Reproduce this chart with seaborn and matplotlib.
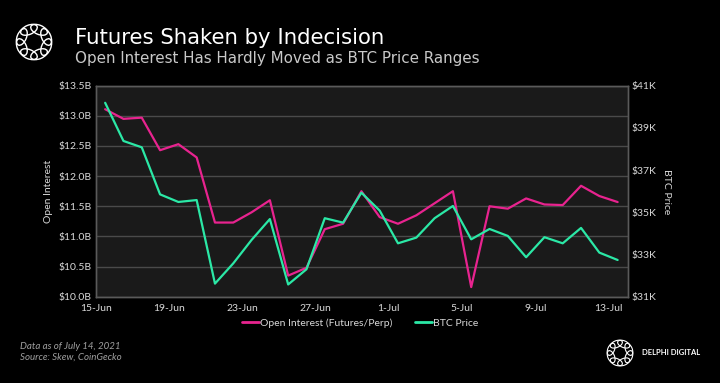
import numpy as np
import pandas as pd
import matplotlib
matplotlib.use("Agg")
import matplotlib.pyplot as plt
from matplotlib.patches import Ellipse
from matplotlib.lines import Line2D
import seaborn as sns

# ---- data ----
dates = pd.date_range("2021-06-15", "2021-07-13", freq="D")
open_interest_b = [13.11, 12.95, 12.97, 12.43, 12.53, 12.31, 11.23, 11.23, 11.40, 11.60,
                   10.35, 10.48, 11.12, 11.21, 11.75, 11.32, 11.21, 11.35, 11.55, 11.75,
                   10.16, 11.50, 11.46, 11.63, 11.53, 11.52, 11.84, 11.67, 11.57]
btc_price_k = [40.19, 38.38, 38.08, 35.85, 35.49, 35.58, 31.62, 32.58, 33.69, 34.68,
               31.58, 32.30, 34.72, 34.51, 35.93, 35.08, 33.53, 33.80, 34.72, 35.30,
               33.72, 34.21, 33.88, 32.87, 33.82, 33.53, 34.26, 33.09, 32.74]
left_ticks = [10.0, 10.5, 11.0, 11.5, 12.0, 12.5, 13.0, 13.5]
right_ticks = [31, 33, 35, 37, 39, 41]
series_names = ["Open Interest (Futures/Perp)", "BTC Price"]

PINK = "#e8238f"
GREEN = "#2be8a6"
BG = "#000000"
PANEL = "#1a1a1a"
GRID = "#4a4a4a"
TXT = "#d9d9d9"

df = pd.DataFrame({"date": dates + pd.Timedelta(hours=12),
                   "oi": open_interest_b, "btc": btc_price_k})

sns.set_theme(style="dark")
plt.rcParams["font.family"] = ["Lato", "DejaVu Sans"]

fig = plt.figure(figsize=(7.2, 3.83), dpi=100, facecolor=BG)
ax = fig.add_axes([96/720, 1-296.7/383, (627.7-96)/720, (296.7-85.7)/383])
ax.set_facecolor(PANEL)
ax2 = ax.twinx()

sns.lineplot(data=df, x="date", y="oi", ax=ax, color=PINK, linewidth=1.6, zorder=3)
sns.lineplot(data=df, x="date", y="btc", ax=ax2, color=GREEN, linewidth=1.6, zorder=4)

ax.set_ylim(10.0, 13.5)
ax2.set_ylim(31, 41)
ax.set_yticks(left_ticks)
ax.set_yticklabels([f"${v:.1f}B" for v in left_ticks])
ax2.set_yticks(right_ticks)
ax2.set_yticklabels([f"${v}K" for v in right_ticks])

x0 = pd.Timestamp("2021-06-15")
ax.set_xlim(x0, x0 + pd.Timedelta(days=29.05))
ticks = [x0 + pd.Timedelta(days=4*i) for i in range(8)]
ax.set_xticks(ticks)
ax.set_xticklabels([t.strftime("%-d-%b") for t in ticks])

ax.grid(axis="y", color=GRID, linewidth=1.0)
ax.grid(axis="x", visible=False)
ax2.grid(False)
for a in (ax, ax2):
    for s in a.spines.values():
        s.set_visible(True)
        s.set_color("#5a5a5a")
        s.set_linewidth(1.0)
    a.tick_params(colors=TXT, labelsize=7.5, length=0, pad=3)
ax.tick_params(axis="x", length=3, color="#5a5a5a", width=0.8, pad=2)
ax.set_xlabel("")
ax.set_ylabel("Open Interest", color=TXT, fontsize=7.5, labelpad=4)
ax2.set_ylabel("BTC Price", color=TXT, fontsize=7.5, rotation=270, labelpad=10)

# legend
handles = [Line2D([0], [0], color=PINK, lw=2), Line2D([0], [0], color=GREEN, lw=2)]
fig.legend(handles, series_names, loc="center", bbox_to_anchor=(0.5, 1-323/383),
           ncol=2, frameon=False, fontsize=7.5, labelcolor=TXT, handlelength=1.6,
           handletextpad=0.1, columnspacing=2.2)

# titles
fig.text(75/720, 1-44/383, "Futures Shaken by Indecision", color="white", fontsize=15.3,
         ha="left", va="baseline", family=["DejaVu Sans"])
fig.text(75/720, 1-63/383, "Open Interest Has Hardly Moved as BTC Price Ranges",
         color="#c8c8c8", fontsize=10.9, ha="left", va="baseline", family=["DejaVu Sans"])

# footer
fig.text(20/720, 1-349/383, "Data as of July 14, 2021", color="#a0a0a0", fontsize=7,
         style="italic", ha="left", va="baseline")
fig.text(20/720, 1-360/383, "Source: Skew, CoinGecko", color="#a0a0a0", fontsize=7,
         style="italic", ha="left", va="baseline")
fig.text(642/720, 1-355/383, "DELPHI DIGITAL", color="white", fontsize=5.5,
         ha="left", va="baseline", fontweight="bold")

# logos
def draw_logo(cx, cy, r, lw):
    la = fig.add_axes([(cx-r)/720, 1-(cy+r)/383, 2*r/720, 2*r/383])
    la.set_xlim(-1, 1); la.set_ylim(-1, 1); la.axis("off")
    la.set_aspect("auto")
    for k in range(8):
        ang = np.pi/8 + k*np.pi/4
        px, py = 0.6*np.cos(ang), 0.6*np.sin(ang)
        la.add_patch(Ellipse((px, py), 0.8, 0.42, angle=np.degrees(ang)+90,
                             fill=False, ec="white", lw=lw))

draw_logo(34, 42, 22, 1.0)
draw_logo(620, 353, 16, 0.8)

fig.savefig("out.png", dpi=100, facecolor=BG)
